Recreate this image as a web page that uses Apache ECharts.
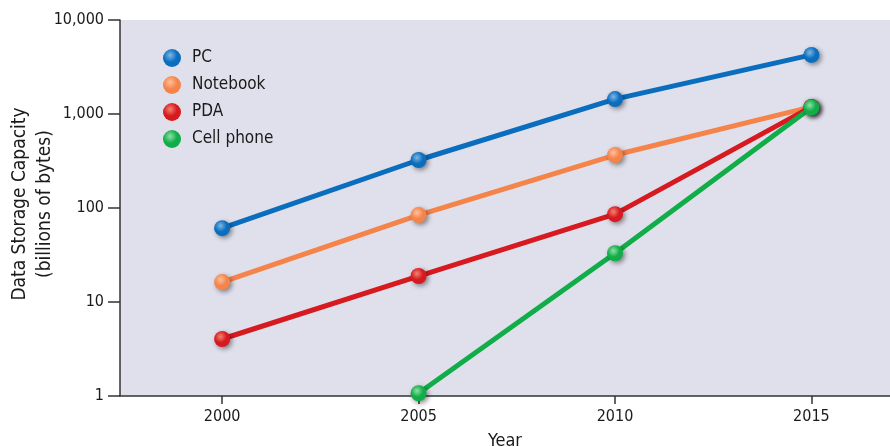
<!DOCTYPE html>
<html><head><meta charset="utf-8">
<script src="https://cdn.jsdelivr.net/npm/echarts@6/dist/echarts.min.js"></script>
<style>html,body{margin:0;padding:0;background:#fff}#c{width:890px;height:447px}</style>
</head><body><div id="c"></div>
<script>
const years = [2000, 2005, 2010, 2015];
const pc = [61, 324, 1440, 4250];
const notebook = [16.3, 84, 366, 1190];
const pda = [4.04, 18.9, 86, 1190];
const cellPhone = [null, 1.07, 33, 1170];
const seriesNames = ['PC', 'Notebook', 'PDA', 'Cell phone'];
const yTitle = ['Data Storage Capacity', '(billions of bytes)'];

const colors = ['#0b6dbd', '#f5844b', '#d71920', '#10ad48'];
const lights = ['#7fb6e6', '#ffc09a', '#f2836f', '#8fe0a6'];
const font = '"DejaVu Sans Condensed", "Liberation Sans Narrow", sans-serif';

function grad(i){
  return new echarts.graphic.RadialGradient(0.4, 0.35, 0.7, [
    {offset:0, color: lights[i]}, {offset:0.55, color: colors[i]}, {offset:1, color: colors[i]}
  ]);
}
const allData = [pc, notebook, pda, cellPhone];
const series = allData.map((arr, i) => ({
  name: seriesNames[i],
  type: 'line',
  data: years.map((y, k) => arr[k] == null ? null : [y, arr[k]]).filter(d => d),
  symbol: 'circle',
  symbolSize: 16,
  lineStyle: {color: colors[i], width: 5},
  itemStyle: {color: grad(i), shadowColor: 'rgba(0,0,0,0.45)', shadowBlur: 5, shadowOffsetX: 2, shadowOffsetY: 2},
  z: 2 + i,
  emphasis: {disabled: true}
}));

const chart = echarts.init(document.getElementById('c'), null, {renderer: 'canvas'});
chart.setOption({
  animation: false,
  textStyle: {fontFamily: font},
  grid: {left: 120, top: 20, right: 0, bottom: 51, show: true, backgroundColor: '#dfe0eb', borderWidth: 0,
         containLabel: false, outerBoundsMode: 'none'},
  legend: {
    orient: 'vertical', left: 158, top: 44, itemGap: 9, itemWidth: 20, itemHeight: 18,
    icon: 'circle', data: seriesNames,
    textStyle: {fontFamily: font, fontSize: 17, color: '#1a1a1a', padding: [0, 0, 0, 5]}
  },
  graphic: yTitle.map((t, i) => ({
    type: 'text', x: 20 + i * 25, y: 204, rotation: Math.PI / 2,
    style: {text: t, font: '19px ' + font, fill: '#1a1a1a', align: 'center', verticalAlign: 'middle'}
  })),
  xAxis: {
    type: 'value', min: 1997.4, max: 2017,
    name: 'Year', nameLocation: 'middle', nameGap: 36,
    nameTextStyle: {fontFamily: font, fontSize: 18, color: '#1a1a1a'},
    axisLine: {show: true, onZero: false, lineStyle: {color: '#333', width: 1.5}},
    axisTick: {show: true, length: 8, customValues: years, lineStyle: {color: '#333', width: 1.5}},
    axisLabel: {customValues: years, fontSize: 16, color: '#1a1a1a', margin: 13, fontFamily: font,
      formatter: v => String(v)},
    splitLine: {show: false}
  },
  yAxis: {
    type: 'log', logBase: 10, min: 1, max: 10000,
    axisLine: {show: true, lineStyle: {color: '#333', width: 1.5}},
    axisTick: {show: true, length: 12, lineStyle: {color: '#333', width: 1.5}},
    axisLabel: {fontSize: 16, color: '#1a1a1a', margin: 16, fontFamily: font,
      formatter: v => Number(v).toLocaleString('en-US')},
    splitLine: {show: false}
  },
  series: series
});
</script></body></html>
